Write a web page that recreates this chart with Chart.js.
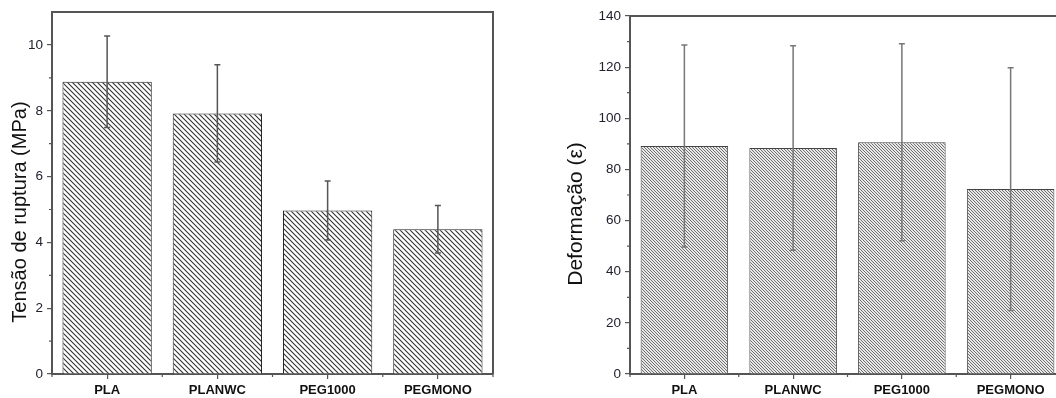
<!DOCTYPE html>
<html>
<head>
<meta charset="utf-8">
<script src="https://cdn.jsdelivr.net/npm/chart.js@4"></script>
<style>
  html, body { margin: 0; padding: 0; background: #fff; overflow: hidden; }
  #wrap { position: relative; width: 1056px; height: 398px; overflow: hidden; }
  #c1 { position: absolute; left: 0; top: 0; }
  #c2 { position: absolute; left: 536px; top: 0; }
</style>
</head>
<body>
<div id="wrap">
  <canvas id="c1" width="520" height="398"></canvas>
  <canvas id="c2" width="544" height="398"></canvas>
</div>
<script>
const categorias = ['PLA', 'PLANWC', 'PEG1000', 'PEGMONO']

const tensao = [8.88, 7.92, 4.97, 4.40]
const tensaoErro = [1.39, 1.48, 0.90, 0.72]

const deformacao = [89.2, 88.4, 90.6, 72.3]
const deformacaoErro = [39.5, 40.0, 38.5, 47.5]

// hachura diagonal "\\\\"
function hachura(tam, cor, fundo, larg) {
    const c = document.createElement('canvas')
    c.width = tam
    c.height = tam
    const g = c.getContext('2d')
    g.fillStyle = fundo
    g.fillRect(0, 0, tam, tam)
    g.strokeStyle = cor
    g.lineWidth = larg
    g.beginPath()
    g.moveTo(-1, -1); g.lineTo(tam + 1, tam + 1)
    g.moveTo(-1, tam - 1); g.lineTo(1, tam + 1)
    g.moveTo(tam - 1, -1); g.lineTo(tam + 1, 1)
    g.stroke()
    return g.createPattern(c, 'repeat')
}

// barras de erro, moldura, ticks menores e titulo do eixo
const extras = {
    id: 'extras',
    afterDatasetsDraw(chart, args, o) {
        const ctx = chart.ctx
        const y = chart.scales.y
        const x = chart.scales.x
        const area = chart.chartArea
        const meta = chart.getDatasetMeta(0)
        const vals = chart.data.datasets[0].data
        ctx.save()
        ctx.strokeStyle = o.corErro
        ctx.lineWidth = 1.5
        meta.data.forEach((bar, i) => {
            const yt = y.getPixelForValue(vals[i] + o.erros[i])
            const yb = y.getPixelForValue(vals[i] - o.erros[i])
            ctx.beginPath()
            ctx.moveTo(bar.x, yt); ctx.lineTo(bar.x, yb)
            ctx.moveTo(bar.x - 3, yt); ctx.lineTo(bar.x + 3, yt)
            ctx.moveTo(bar.x - 3, yb); ctx.lineTo(bar.x + 3, yb)
            ctx.stroke()
        })
        // moldura
        ctx.strokeStyle = '#555'
        ctx.lineWidth = 2
        ctx.beginPath()
        ctx.moveTo(area.left, area.top); ctx.lineTo(area.right, area.top); ctx.lineTo(area.right, area.bottom)
        ctx.stroke()
        // ticks menores
        ctx.lineWidth = 1.2
        ctx.beginPath()
        for (let v = o.passo / 2; v < y.max; v += o.passo) {
            const py = y.getPixelForValue(v)
            ctx.moveTo(area.left - 3, py); ctx.lineTo(area.left, py)
        }
        for (let i = 0; i <= categorias.length; i++) {
            const px = x.getPixelForValue(i - 0.5)
            ctx.moveTo(px, area.bottom); ctx.lineTo(px, area.bottom + 3)
        }
        ctx.stroke()
        // titulo do eixo y
        ctx.fillStyle = '#111'
        ctx.font = o.fonteTitulo
        ctx.textAlign = 'center'
        ctx.textBaseline = 'middle'
        ctx.translate(o.tituloX, (area.top + area.bottom) / 2 + 19)
        ctx.rotate(-Math.PI / 2)
        ctx.fillText(o.titulo, 0, 0)
        ctx.restore()
    }
}

function grafico(el, vals, erros, cfg) {
    return new Chart(document.getElementById(el), {
        type: 'bar',
        data: {
            labels: categorias,
            datasets: [{
                data: vals,
                backgroundColor: cfg.padrao,
                borderColor: cfg.borda,
                borderWidth: 1,
                categoryPercentage: 1,
                barPercentage: cfg.barPct
            }]
        },
        options: {
            responsive: false,
            animation: false,
            layout: { padding: { top: cfg.top, right: cfg.right, left: 0, bottom: 0 } },
            plugins: {
                legend: { display: false },
                tooltip: { enabled: false },
                extras: {
                    erros: erros, corErro: cfg.corErro, passo: cfg.passo,
                    titulo: cfg.titulo, fonteTitulo: cfg.fonteTitulo, tituloX: cfg.tituloX
                }
            },
            scales: {
                x: {
                    afterFit: s => { s.height = 24 },
                    border: { color: '#555', width: 2 },
                    grid: { offset: false, drawOnChartArea: false, tickLength: 5, color: '#555', lineWidth: 1.2 },
                    ticks: { color: '#111', padding: 4, font: { family: 'Arial, "Liberation Sans"', size: 13, weight: 'bold' } }
                },
                y: {
                    min: 0,
                    max: cfg.max,
                    afterFit: s => { s.width = cfg.yLarg },
                    afterBuildTicks: s => { s.ticks = s.ticks.filter(t => Math.abs(t.value / cfg.passo - Math.round(t.value / cfg.passo)) < 1e-6) },
                    border: { color: '#555', width: 2 },
                    grid: { drawOnChartArea: false, tickLength: 5, color: '#555', lineWidth: 1.2 },
                    ticks: { stepSize: cfg.passo, color: '#22222e', padding: 4, font: { family: 'Arial, "Liberation Sans"', size: 13.5 } }
                }
            }
        },
        plugins: [extras]
    })
}

grafico('c1', tensao, tensaoErro, {
    padrao: hachura(5, '#333', '#fff', 1.1),
    borda: '#222',
    barPct: 0.81,
    corErro: '#555',
    max: 11,
    passo: 2,
    top: 12,
    right: 27,
    yLarg: 52,
    titulo: 'Tensão de ruptura (MPa)',
    fonteTitulo: '20px Arial, "Liberation Sans"',
    tituloX: 20
})

grafico('c2', deformacao, deformacaoErro, {
    padrao: hachura(3, '#707070', '#e8e8e8', 1),
    borda: '#444',
    barPct: 0.805,
    corErro: '#777',
    max: 140,
    passo: 20,
    top: 16,
    right: 15,
    yLarg: 94,
    titulo: 'Deformação (ε)',
    fonteTitulo: '21px Arial, "Liberation Sans"',
    tituloX: 40
})
</script>
</body>
</html>
